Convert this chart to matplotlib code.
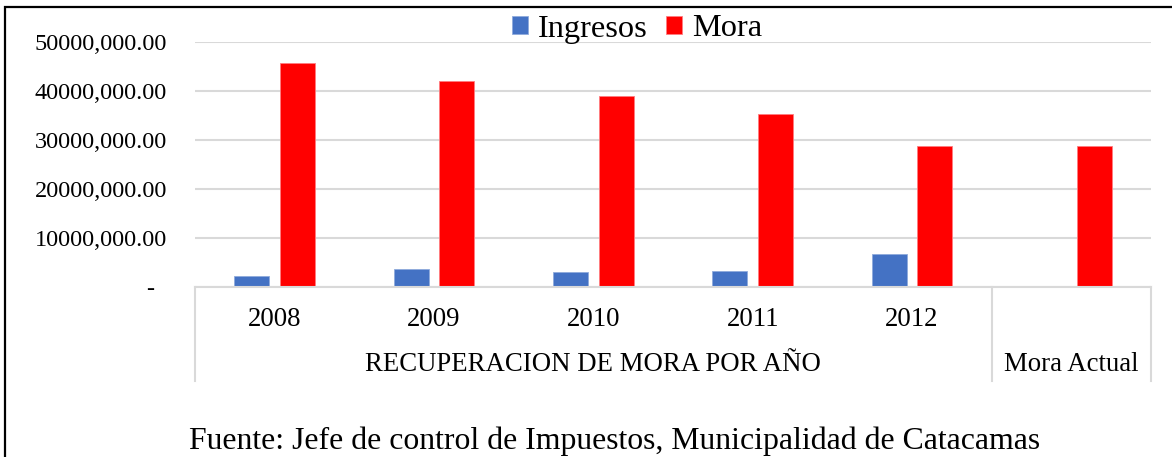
import matplotlib
matplotlib.use("Agg")
import matplotlib.pyplot as plt
from matplotlib.patches import Rectangle
import numpy as np

plt.rcParams['font.family'] = ['Liberation Serif', 'DejaVu Serif']

# datos
anios = ['2008', '2009', '2010', '2011', '2012', '']
ingresos = [2.33e6, 3.61e6, 3.14e6, 3.35e6, 6.67e6, np.nan]
mora = [45.7e6, 42.0e6, 38.9e6, 35.4e6, 28.8e6, 28.8e6]
grupos = ['RECUPERACION DE MORA POR AÑO', 'Mora Actual']
yticks = [0, 10e6, 20e6, 30e6, 40e6, 50e6]
ytick_labels = ['-  ', '10000,000.00', '20000,000.00', '30000,000.00',
                '40000,000.00', '50000,000.00']
fuente = 'Fuente: Jefe de control de Impuestos, Municipalidad de Catacamas'

W, H = 1172, 457
fig = plt.figure(figsize=(W / 100, H / 100), dpi=100)
ax = fig.add_axes([195 / W, 1 - 287 / H, 956 / W, 245 / H])

x = np.arange(len(anios))
ancho = 0.22
ax.bar(x - 0.144, ingresos, ancho, color='#4472C4', edgecolor='#8FAADC',
       linewidth=0.6, label='Ingresos', zorder=3)
ax.bar(x + 0.144, mora, ancho, color='#FF0000', edgecolor='#FF7C80',
       linewidth=0.6, label='Mora', zorder=3)

ax.set_xlim(-0.5, len(anios) - 0.5)
ax.set_ylim(0, 50e6)
ax.set_yticks(yticks)
ax.set_yticklabels(ytick_labels, fontsize=17.5)
ax.tick_params(axis='y', length=0, pad=20)
ax.set_xticks([])
ax.yaxis.grid(True, color='#D9D9D9', linewidth=1.5, zorder=0)
for s in ['left', 'right', 'top']:
    ax.spines[s].set_visible(False)
ax.spines['bottom'].set_color('#D9D9D9')
ax.spines['bottom'].set_linewidth(1.5)
ax.spines['bottom'].set_zorder(4)

# etiquetas de categorias (eje multinivel)
trans = ax.get_xaxis_transform()
for i, a in enumerate(anios):
    ax.text(i, (287 - 320) / 245, a, transform=trans, ha='center', va='center',
            fontsize=19.3)
ax.text(2, (287 - 365) / 245, grupos[0], transform=trans, ha='center',
        va='center', fontsize=19.3)
ax.text(5, (287 - 365) / 245, grupos[1], transform=trans, ha='center',
        va='center', fontsize=19.3)
for xv in [-0.5, 4.5, 5.5]:
    ax.plot([xv, xv], [0, (287 - 381) / 245], transform=trans, color='#D9D9D9',
            linewidth=1.5, clip_on=False)

ax.legend(loc='center', bbox_to_anchor=(637 / W, 1 - 29 / H),
          bbox_transform=fig.transFigure, ncol=2, frameon=False, fontsize=23.3,
          handlelength=0.5, handleheight=0.5, handletextpad=0.3,
          columnspacing=0.57)

fig.text(615 / W, 1 - 449 / H, fuente, ha='center', va='baseline', fontsize=22.9)

# borde de la figura
fig.patches.append(Rectangle((5 / W, -0.1), 1.2, 1 - 7 / H + 0.1,
                             transform=fig.transFigure, fill=False,
                             edgecolor='black', linewidth=1.6))

fig.savefig('out.png', dpi=100)
